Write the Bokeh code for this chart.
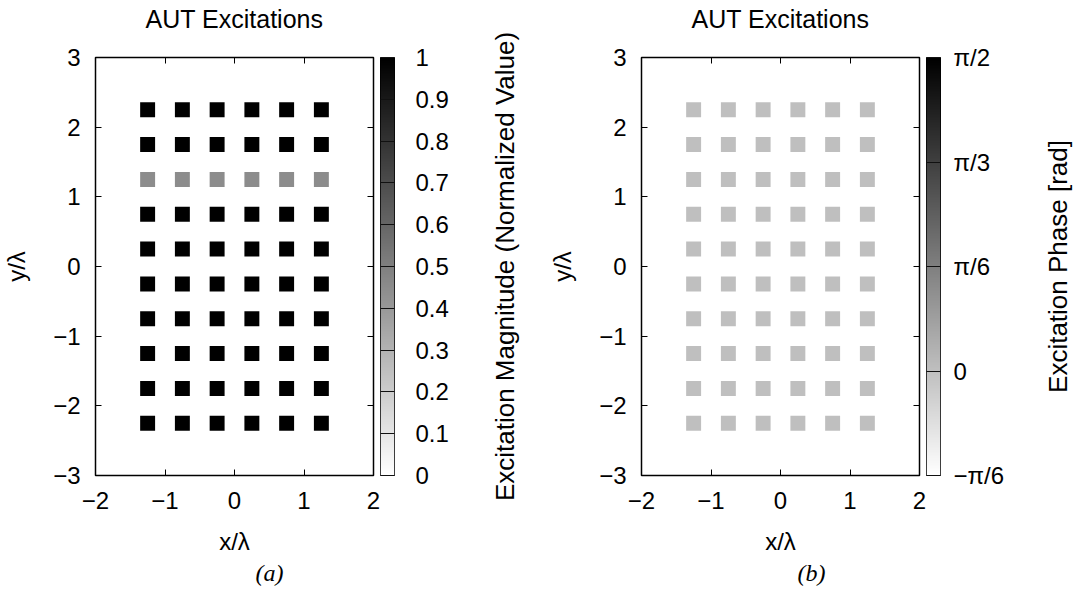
import math
import numpy as np
from bokeh.plotting import figure
from bokeh.layouts import row
from bokeh.models import (LinearAxis, FixedTicker, LinearColorMapper, Title, Range1d,
                          ColumnDataSource)
from bokeh.palettes import Greys256
from bokeh.transform import transform
from bokeh.embed import file_html
from bokeh.resources import INLINE

# ---------------- data ----------------
x_positions = [-1.25, -0.75, -0.25, 0.25, 0.75, 1.25]                      # x/lambda of columns
y_positions = [2.25, 1.75, 1.25, 0.75, 0.25, -0.25, -0.75, -1.25, -1.75, -2.25]  # y/lambda of rows

magnitude = [
    [1.0, 1.0, 1.0, 1.0, 1.0, 1.0],
    [1.0, 1.0, 1.0, 1.0, 1.0, 1.0],
    [0.45, 0.45, 0.45, 0.45, 0.45, 0.45],
    [1.0, 1.0, 1.0, 1.0, 1.0, 1.0],
    [1.0, 1.0, 1.0, 1.0, 1.0, 1.0],
    [1.0, 1.0, 1.0, 1.0, 1.0, 1.0],
    [1.0, 1.0, 1.0, 1.0, 1.0, 1.0],
    [1.0, 1.0, 1.0, 1.0, 1.0, 1.0],
    [1.0, 1.0, 1.0, 1.0, 1.0, 1.0],
    [1.0, 1.0, 1.0, 1.0, 1.0, 1.0],
]

phase = [
    [0.0, 0.0, 0.0, 0.0, 0.0, 0.0],
    [0.0, 0.0, 0.0, 0.0, 0.0, 0.0],
    [0.0, 0.0, 0.0, 0.0, 0.0, 0.0],
    [0.0, 0.0, 0.0, 0.0, 0.0, 0.0],
    [0.0, 0.0, 0.0, 0.0, 0.0, 0.0],
    [0.0, 0.0, 0.0, 0.0, 0.0, 0.0],
    [0.0, 0.0, 0.0, 0.0, 0.0, 0.0],
    [0.0, 0.0, 0.0, 0.0, 0.0, 0.0],
    [0.0, 0.0, 0.0, 0.0, 0.0, 0.0],
    [0.0, 0.0, 0.0, 0.0, 0.0, 0.0],
]

x_ticks = [-2, -1, 0, 1, 2]
x_tick_labels = ["\u22122", "\u22121", "0", "1", "2"]
y_ticks = [-3, -2, -1, 0, 1, 2, 3]
y_tick_labels = ["\u22123", "\u22122", "\u22121", "0", "1", "2", "3"]

mag_range = (0.0, 1.0)
mag_ticks = [0, 0.1, 0.2, 0.3, 0.4, 0.5, 0.6, 0.7, 0.8, 0.9, 1]
mag_tick_labels = ["0", "0.1", "0.2", "0.3", "0.4", "0.5", "0.6", "0.7", "0.8", "0.9", "1"]

phase_range = (-math.pi / 6, math.pi / 2)
phase_ticks = [-math.pi / 6, 0, math.pi / 6, math.pi / 3, math.pi / 2]
phase_tick_labels = ["\u2212\u03c0/6", "0", "\u03c0/6", "\u03c0/3", "\u03c0/2"]

titles = ["AUT Excitations", "AUT Excitations"]
cbar_titles = ["Excitation Magnitude (Normalized Value)", "Excitation Phase [rad]"]
captions = ["(a)", "(b)"]

# ---------------- style ----------------
FONT = "Liberation Sans"
TICK_SIZE = "24px"
LABEL_SIZE = "24px"
SQ = 0.215
H = 593
TOP = 57
BOTTOM = 118
MAIN_LEFT = 94
FRAME_W = 279
white_to_black = list(Greys256)[::-1]


def style_axis(ax, ticks, labels, hidden=False):
    ax.ticker = FixedTicker(ticks=ticks)
    ax.major_label_overrides = dict(zip(ticks, labels))
    ax.major_tick_in = 6
    ax.major_tick_out = 0
    ax.major_tick_line_color = "black"
    ax.minor_tick_line_color = None
    ax.axis_line_color = None
    ax.major_label_text_font = FONT
    ax.major_label_text_color = "black"
    if hidden:
        ax.major_label_text_font_size = "0px"
        ax.major_label_standoff = 0
    else:
        ax.major_label_text_font_size = TICK_SIZE
    ax.axis_label_text_font = FONT
    ax.axis_label_text_font_size = LABEL_SIZE
    ax.axis_label_text_font_style = "normal"
    ax.axis_label_text_color = "black"


def make_main(values, mapper, title, caption, caption_offset, width):
    p = figure(width=width, height=H, x_range=Range1d(-2, 2), y_range=Range1d(-3, 3),
               output_backend="svg", toolbar_location=None,
               min_border_left=MAIN_LEFT, min_border_right=width - MAIN_LEFT - FRAME_W,
               min_border_top=TOP, min_border_bottom=BOTTOM)

    xs, ys, vs = [], [], []
    for yi, rowvals in zip(y_positions, values):
        for xi, v in zip(x_positions, rowvals):
            xs.append(xi)
            ys.append(yi)
            vs.append(v)
    src = ColumnDataSource(dict(x=xs, y=ys, v=vs))
    p.rect(x="x", y="y", width=SQ, height=SQ, source=src,
           fill_color=transform("v", mapper), line_color=None)

    p.xgrid.visible = False
    p.ygrid.visible = False
    p.outline_line_color = "black"
    p.outline_line_width = 1.5
    p.background_fill_color = "white"
    p.border_fill_color = "white"

    style_axis(p.xaxis[0], x_ticks, x_tick_labels)
    style_axis(p.yaxis[0], y_ticks, y_tick_labels)
    p.xaxis.axis_label = "x/\u03bb"
    p.yaxis.axis_label = "y/\u03bb"
    p.xaxis.major_label_standoff = 16
    p.yaxis.major_label_standoff = 15
    p.xaxis.axis_label_standoff = 16
    p.yaxis.axis_label_standoff = 20

    # mirrored top axis (inward ticks) carrying the panel title as its label
    top = LinearAxis()
    style_axis(top, x_ticks, ["", "", "", "", ""], hidden=True)
    top.axis_label = title
    top.axis_label_text_font_size = "25px"
    top.axis_label_standoff = 25
    p.add_layout(top, "above")
    right = LinearAxis()
    style_axis(right, y_ticks, ["", "", "", "", "", "", ""], hidden=True)
    p.add_layout(right, "right")

    cap = Title(text=caption, align="left", offset=caption_offset,
                text_font="Liberation Serif", text_font_style="italic",
                text_font_size="24px", text_color="black")
    cap.standoff = 0
    p.add_layout(cap, "below")
    return p


def make_cbar(mapper, rng, ticks, labels, width, label_standoff):
    lo, hi = rng
    c = figure(width=width, height=H, x_range=Range1d(0, 1), y_range=Range1d(lo, hi),
               x_axis_location=None, y_axis_location=None,
               output_backend="svg", toolbar_location=None,
               min_border_left=0, min_border_right=width - 14,
               min_border_top=TOP, min_border_bottom=BOTTOM)
    grad = np.linspace(lo, hi, 256).reshape(256, 1)
    c.image(image=[grad], x=0, y=lo, dw=1, dh=hi - lo, color_mapper=mapper)
    c.xgrid.visible = False
    c.ygrid.visible = False
    c.outline_line_color = "black"
    c.outline_line_width = 1
    c.border_fill_color = "white"
    ax = LinearAxis()
    style_axis(ax, ticks, labels)
    ax.major_tick_in = 14
    ax.major_tick_line_color = "#111111"
    ax.major_label_standoff = label_standoff
    c.add_layout(ax, "right")
    return c


def make_cbar_title(text, width, standoff):
    # narrow figure whose left-axis label carries the colour-bar title (reads bottom-to-top)
    t = figure(width=width, height=H, x_range=Range1d(0, 1), y_range=Range1d(0, 1),
               x_axis_location=None, y_axis_location=None,
               output_backend="svg", toolbar_location=None,
               min_border_left=width - 1, min_border_right=0,
               min_border_top=TOP, min_border_bottom=BOTTOM)
    t.xgrid.visible = False
    t.ygrid.visible = False
    t.outline_line_color = None
    t.border_fill_color = "white"
    t.background_fill_color = "white"
    ax = LinearAxis()
    ax.ticker = FixedTicker(ticks=[])
    ax.major_tick_line_color = None
    ax.minor_tick_line_color = None
    ax.axis_line_color = None
    ax.major_label_text_font_size = "0px"
    ax.major_label_standoff = 0
    ax.axis_label = text
    ax.axis_label_standoff = standoff
    ax.axis_label_text_font = FONT
    ax.axis_label_text_font_size = "26px"
    ax.axis_label_text_font_style = "normal"
    ax.axis_label_text_color = "black"
    t.add_layout(ax, "left")
    return t


mag_mapper = LinearColorMapper(palette=white_to_black, low=mag_range[0], high=mag_range[1])
phase_mapper = LinearColorMapper(palette=white_to_black, low=phase_range[0], high=phase_range[1])

pa = make_main(magnitude, mag_mapper, titles[0], captions[0], 160, 380)
ca = make_cbar(mag_mapper, mag_range, mag_ticks, mag_tick_labels, 86, 21)
ta = make_cbar_title(cbar_titles[0], 80, 26)
pb = make_main(phase, phase_mapper, titles[1], captions[1], 156, 380)
cb = make_cbar(phase_mapper, phase_range, phase_ticks, phase_tick_labels, 84, 13)
tb = make_cbar_title(cbar_titles[1], 64, 1)

layout = row(pa, ca, ta, pb, cb, tb)
open("out.html", "w").write(file_html(layout, INLINE))
